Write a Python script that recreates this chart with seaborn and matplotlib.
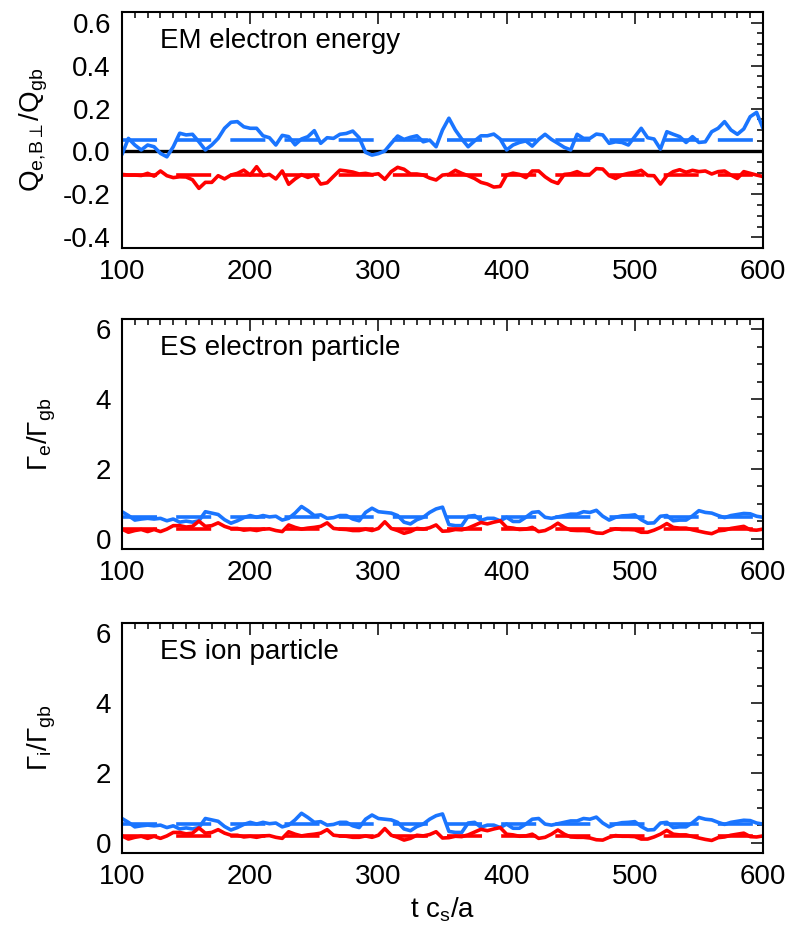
import numpy as np
import pandas as pd
import matplotlib
matplotlib.use("Agg")
import matplotlib.pyplot as plt
import seaborn as sns
from matplotlib.ticker import MultipleLocator, FuncFormatter

sns.set_theme(style="white")
plt.rcParams['font.family'] = ['Liberation Sans', 'DejaVu Sans']
plt.rcParams['mathtext.fontset'] = 'custom'
plt.rcParams['mathtext.rm'] = 'Liberation Sans'
plt.rcParams['mathtext.it'] = 'Liberation Sans:italic'
plt.rcParams['mathtext.fallback'] = 'stixsans'
plt.rcParams['axes.unicode_minus'] = False

# ---------------- data ----------------
time = np.arange(100, 601, 5)

em_blue = [-0.014, 0.061, 0.030, 0.007, 0.030, 0.022, -0.009, -0.025, 0.022, 0.085,
           0.077, 0.080, 0.045, 0.007, 0.030, 0.061, 0.108, 0.136, 0.139, 0.115,
           0.108, 0.108, 0.073, 0.064, 0.030, 0.075, 0.069, 0.031, 0.058, 0.069,
           0.097, 0.038, 0.064, 0.061, 0.080, 0.084, 0.095, 0.064, -0.004, -0.017,
           -0.010, 0.002, 0.038, 0.072, 0.056, 0.066, 0.073, 0.045, 0.053, 0.022,
           0.100, 0.155, 0.100, 0.058, 0.022, 0.049, 0.073, 0.073, 0.081, 0.058,
           0.007, 0.030, 0.042, 0.049, 0.025, 0.056, 0.080, 0.056, 0.038, 0.019,
           0.007, 0.080, 0.061, 0.061, 0.081, 0.077, 0.038, 0.045, 0.042, 0.030,
           0.069, 0.108, 0.064, 0.058, 0.011, 0.092, 0.080, 0.069, 0.042, 0.069,
           0.042, 0.045, 0.092, 0.108, 0.139, 0.100, 0.080, 0.105, 0.162, 0.182,
           0.108]
em_red = [-0.107, -0.110, -0.110, -0.112, -0.102, -0.115, -0.091, -0.113, -0.122, -0.118,
          -0.119, -0.132, -0.172, -0.144, -0.144, -0.113, -0.128, -0.110, -0.102, -0.087,
          -0.110, -0.071, -0.113, -0.107, -0.128, -0.091, -0.153, -0.128, -0.108, -0.121,
          -0.110, -0.152, -0.146, -0.116, -0.087, -0.091, -0.096, -0.105, -0.102, -0.108,
          -0.104, -0.130, -0.094, -0.074, -0.083, -0.105, -0.105, -0.110, -0.124, -0.133,
          -0.110, -0.107, -0.088, -0.102, -0.113, -0.126, -0.144, -0.152, -0.166, -0.163,
          -0.110, -0.101, -0.107, -0.122, -0.091, -0.091, -0.118, -0.138, -0.149, -0.107,
          -0.104, -0.094, -0.108, -0.107, -0.080, -0.082, -0.113, -0.126, -0.110, -0.102,
          -0.097, -0.088, -0.112, -0.113, -0.152, -0.113, -0.094, -0.085, -0.097, -0.088,
          -0.094, -0.091, -0.105, -0.094, -0.091, -0.110, -0.126, -0.094, -0.102, -0.110,
          -0.117]

ese_blue = [0.77, 0.66, 0.53, 0.56, 0.58, 0.56, 0.58, 0.51, 0.56, 0.47,
            0.50, 0.47, 0.51, 0.77, 0.73, 0.69, 0.54, 0.44, 0.51, 0.60,
            0.66, 0.61, 0.66, 0.62, 0.64, 0.53, 0.58, 0.73, 0.92, 0.80,
            0.66, 0.68, 0.58, 0.60, 0.66, 0.66, 0.56, 0.51, 0.75, 0.87,
            0.77, 0.75, 0.73, 0.66, 0.47, 0.42, 0.54, 0.61, 0.75, 0.85,
            0.90, 0.40, 0.37, 0.37, 0.64, 0.66, 0.52, 0.58, 0.58, 0.51,
            0.61, 0.49, 0.49, 0.61, 0.75, 0.77, 0.61, 0.58, 0.62, 0.66,
            0.70, 0.70, 0.77, 0.75, 0.81, 0.64, 0.53, 0.61, 0.65, 0.66,
            0.68, 0.54, 0.44, 0.45, 0.64, 0.66, 0.51, 0.53, 0.53, 0.65,
            0.80, 0.75, 0.73, 0.66, 0.60, 0.66, 0.69, 0.72, 0.71, 0.64,
            0.61]
ese_red = [0.27, 0.18, 0.23, 0.26, 0.20, 0.26, 0.20, 0.27, 0.37, 0.37,
           0.33, 0.35, 0.50, 0.35, 0.37, 0.45, 0.35, 0.29, 0.29, 0.24,
           0.26, 0.23, 0.27, 0.28, 0.23, 0.20, 0.39, 0.32, 0.27, 0.30,
           0.32, 0.35, 0.45, 0.29, 0.27, 0.26, 0.23, 0.23, 0.27, 0.23,
           0.29, 0.48, 0.29, 0.23, 0.15, 0.20, 0.29, 0.27, 0.31, 0.39,
           0.21, 0.22, 0.26, 0.25, 0.30, 0.38, 0.46, 0.42, 0.47, 0.51,
           0.32, 0.30, 0.26, 0.27, 0.32, 0.20, 0.23, 0.32, 0.44, 0.32,
           0.24, 0.23, 0.23, 0.21, 0.16, 0.15, 0.23, 0.28, 0.26, 0.26,
           0.25, 0.18, 0.18, 0.24, 0.32, 0.43, 0.32, 0.30, 0.30, 0.25,
           0.21, 0.17, 0.14, 0.22, 0.24, 0.29, 0.32, 0.35, 0.25, 0.24,
           0.27]

esi_blue = [0.69, 0.58, 0.45, 0.48, 0.50, 0.48, 0.50, 0.43, 0.48, 0.39,
            0.42, 0.39, 0.43, 0.69, 0.65, 0.61, 0.46, 0.36, 0.43, 0.52,
            0.58, 0.53, 0.58, 0.54, 0.56, 0.45, 0.50, 0.65, 0.84, 0.72,
            0.58, 0.60, 0.50, 0.52, 0.58, 0.58, 0.48, 0.43, 0.67, 0.79,
            0.69, 0.67, 0.65, 0.58, 0.39, 0.34, 0.46, 0.53, 0.67, 0.77,
            0.82, 0.32, 0.29, 0.29, 0.56, 0.58, 0.44, 0.50, 0.50, 0.43,
            0.53, 0.41, 0.41, 0.53, 0.67, 0.69, 0.53, 0.50, 0.54, 0.58,
            0.62, 0.62, 0.69, 0.67, 0.73, 0.56, 0.45, 0.53, 0.57, 0.58,
            0.60, 0.46, 0.36, 0.37, 0.56, 0.58, 0.43, 0.45, 0.45, 0.57,
            0.72, 0.67, 0.65, 0.58, 0.52, 0.58, 0.61, 0.64, 0.63, 0.56,
            0.53]
esi_red = [0.19, 0.10, 0.15, 0.18, 0.12, 0.18, 0.12, 0.19, 0.29, 0.29,
           0.25, 0.27, 0.42, 0.27, 0.29, 0.37, 0.27, 0.21, 0.21, 0.16,
           0.18, 0.15, 0.19, 0.20, 0.15, 0.12, 0.31, 0.24, 0.19, 0.22,
           0.24, 0.27, 0.37, 0.21, 0.19, 0.18, 0.15, 0.15, 0.19, 0.15,
           0.21, 0.40, 0.21, 0.15, 0.07, 0.12, 0.21, 0.19, 0.23, 0.31,
           0.13, 0.14, 0.18, 0.17, 0.22, 0.30, 0.38, 0.34, 0.39, 0.43,
           0.24, 0.22, 0.18, 0.19, 0.24, 0.12, 0.15, 0.24, 0.36, 0.24,
           0.16, 0.15, 0.15, 0.13, 0.08, 0.07, 0.15, 0.20, 0.18, 0.18,
           0.17, 0.10, 0.10, 0.16, 0.24, 0.35, 0.24, 0.22, 0.22, 0.17,
           0.13, 0.09, 0.06, 0.14, 0.16, 0.21, 0.24, 0.27, 0.17, 0.16,
           0.19]

mean_blue = [0.055, 0.62, 0.54]
mean_red = [-0.11, 0.27, 0.19]

titles = ["EM electron energy", "ES electron particle", "ES ion particle"]
ylabels = [r"Q$_{\mathrm{e{,}B}\perp}$/Q$_{\mathrm{gb}}$",
           r"Γ$_{\mathrm{e}}$/Γ$_{\mathrm{gb}}$",
           r"Γ$_{\mathrm{i}}$/Γ$_{\mathrm{gb}}$"]
xlabel = r"t c$_{\mathrm{s}}$/a"

# ---------------- style ----------------
BLUE = "#1a75ff"
RED = "#ff0000"
W, H = 788, 934
fig = plt.figure(figsize=(W / 100, H / 100), dpi=100)

# axes boxes in pixels: left, top, right, bottom
boxes = [(122, 12, 763, 248), (122, 319, 763, 549), (122, 623, 763, 853)]
ylims = [(-0.45, 0.65), (-0.3, 6.3), (-0.3, 6.3)]
ymajor = [0.2, 2, 2]
yminor = [0.05, 0.5, 0.5]
blues = [em_blue, ese_blue, esi_blue]
reds = [em_red, ese_red, esi_red]
LW = 2.6
dash = (0, (9.7, 5.3))

for i in range(3):
    l, t, r, b = boxes[i]
    ax = fig.add_axes([l / W, 1 - b / H, (r - l) / W, (b - t) / H])
    df = pd.DataFrame({"t": time, "blue": blues[i], "red": reds[i]})
    if i == 0:
        ax.axhline(0, color="black", lw=2.4, zorder=1)
    sns.lineplot(data=df, x="t", y="blue", ax=ax, color=BLUE, lw=LW, estimator=None)
    sns.lineplot(data=df, x="t", y="red", ax=ax, color=RED, lw=LW, estimator=None)
    ax.axhline(mean_blue[i], color=BLUE, lw=LW, ls=dash)
    ax.axhline(mean_red[i], color=RED, lw=LW, ls=dash)

    ax.set_xlim(100, 600)
    ax.set_ylim(*ylims[i])
    ax.xaxis.set_major_locator(MultipleLocator(100))
    ax.xaxis.set_minor_locator(MultipleLocator(10))
    ax.yaxis.set_major_locator(MultipleLocator(ymajor[i]))
    ax.yaxis.set_minor_locator(MultipleLocator(yminor[i]))
    if i == 0:
        ax.yaxis.set_major_formatter(FuncFormatter(
            lambda v, p: "0.0" if abs(v) < 1e-9 else f"{v:.1f}"))
    else:
        ax.yaxis.set_major_formatter(FuncFormatter(lambda v, p: f"{v:.0f}"))
    ax.tick_params(which="both", direction="in", top=True, right=True,
                   width=1.1, color="black", labelsize=20, labelcolor="black")
    ax.tick_params(which="major", length=8.5, pad=8)
    ax.tick_params(which="minor", length=4.5)
    for s in ax.spines.values():
        s.set_linewidth(1.5)
        s.set_color("black")
        s.set_visible(True)
    ax.text(0.059, 0.875, titles[i], transform=ax.transAxes, fontsize=20,
            ha="left", va="center", color="black")
    ax.set_ylabel(ylabels[i], fontsize=20, color="black", va="center")
    ax.yaxis.set_label_coords(-0.137 if i == 0 else -0.125, 0.5)
    if i == 2:
        ax.set_xlabel(xlabel, fontsize=20, color="black", va="center")
        ax.xaxis.set_label_coords(0.5, -0.248)
    else:
        ax.set_xlabel("")

fig.savefig("out.png", dpi=100, facecolor="white")
